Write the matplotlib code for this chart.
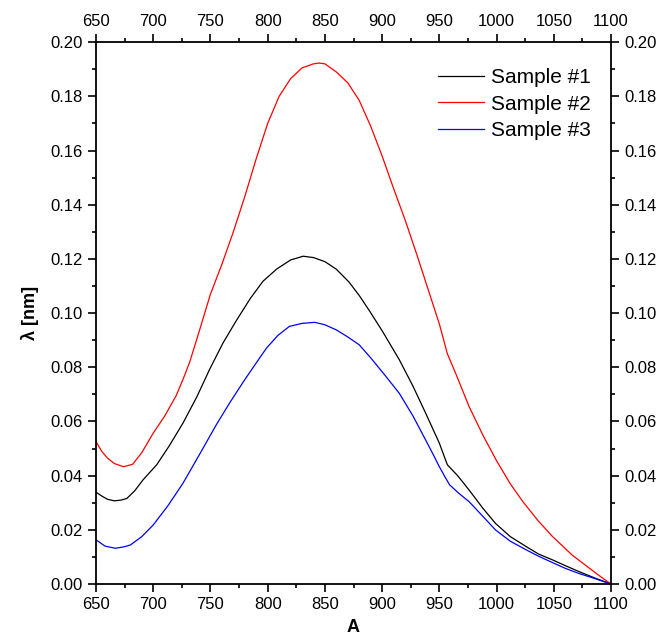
import numpy as np
import matplotlib.pyplot as plt
from matplotlib.ticker import MultipleLocator

plt.rcParams['font.family'] = ['Liberation Sans', 'DejaVu Sans']

# --- date ---
x1 = [650, 655, 660, 666, 672, 677, 684, 691, 703, 714, 726, 738, 749, 761, 773, 785, 796,
      808, 820, 831, 840, 850, 860, 871, 880, 889, 900, 915, 927, 938, 950, 957, 966, 976,
      988, 999, 1012, 1026, 1037, 1049, 1060, 1072, 1086, 1100]
y1 = [0.0339, 0.0325, 0.0313, 0.0307, 0.031, 0.0316, 0.0345, 0.0384, 0.044, 0.051, 0.0594,
      0.069, 0.079, 0.089, 0.0975, 0.1055, 0.1118, 0.1163, 0.1196, 0.121, 0.1205, 0.119,
      0.1162, 0.1115, 0.1065, 0.1008, 0.0935, 0.0828, 0.073, 0.0631, 0.052, 0.044, 0.040,
      0.0347, 0.028, 0.0224, 0.0175, 0.0138, 0.011, 0.0089, 0.0068, 0.0046, 0.0022, 0.0]

x2 = [650, 655, 660, 666, 674, 682, 690, 700, 710, 720, 726, 732, 740, 750, 760, 770, 780,
      790, 800, 810, 820, 830, 840, 845, 850, 860, 870, 880, 890, 900, 910, 920, 930, 940,
      950, 957, 965, 976, 988, 1000, 1012, 1023, 1036, 1049, 1066, 1080, 1090, 1100]
y2 = [0.0526, 0.049, 0.0465, 0.0445, 0.0433, 0.0442, 0.0485, 0.0557, 0.062, 0.0695, 0.0755,
      0.0821, 0.093, 0.107, 0.118, 0.130, 0.143, 0.157, 0.170, 0.180, 0.1865, 0.1905, 0.192,
      0.1923, 0.192, 0.189, 0.185, 0.1785, 0.169, 0.158, 0.146, 0.1345, 0.122, 0.109, 0.096,
      0.085, 0.077, 0.0655, 0.055, 0.0455, 0.037, 0.0304, 0.0235, 0.0175, 0.0107, 0.0062,
      0.003, 0.0]

x3 = [650, 658, 667, 674, 680, 690, 700, 713, 726, 740, 755, 767, 779, 789, 799, 809, 819,
      830, 841, 850, 860, 870, 880, 890, 903, 915, 927, 938, 945, 950, 955, 959, 967, 976,
      988, 999, 1012, 1026, 1037, 1049, 1060, 1072, 1086, 1100]
y3 = [0.0163, 0.014, 0.0132, 0.0137, 0.0144, 0.0175, 0.0218, 0.029, 0.0372, 0.0475, 0.0587,
      0.067, 0.0748, 0.081, 0.0871, 0.0918, 0.0951, 0.0962, 0.0966, 0.0957, 0.0938, 0.0912,
      0.0883, 0.0835, 0.0768, 0.0704, 0.062, 0.0532, 0.0475, 0.0433, 0.0395, 0.0366, 0.0335,
      0.0304, 0.025, 0.02, 0.0158, 0.0126, 0.0102, 0.0079, 0.0058, 0.0039, 0.002, 0.0]

labels = ['Sample #1', 'Sample #2', 'Sample #3']
colors = ['black', '#ff0000', '#0000ff']

fig = plt.figure(figsize=(6.62, 6.39), dpi=100)
ax = fig.add_axes([0.145, 0.086, 0.778, 0.848])

for xs, ys, lab, c in zip([x1, x2, x3], [y1, y2, y3], labels, colors):
    ax.plot(xs, ys, color=c, linewidth=0.9, label=lab)

ax.set_xlim(650, 1100)
ax.set_ylim(0, 0.20)
ax.xaxis.set_major_locator(MultipleLocator(50))
ax.xaxis.set_minor_locator(MultipleLocator(25))
ax.yaxis.set_major_locator(MultipleLocator(0.02))
ax.yaxis.set_minor_locator(MultipleLocator(0.01))
ax.yaxis.set_major_formatter(plt.FormatStrFormatter('%.2f'))

ax.tick_params(which='both', direction='out', top=True, right=True,
               labeltop=True, labelright=True, width=1.2, labelsize=12)
ax.tick_params(which='major', length=6)
ax.tick_params(which='minor', length=3)
for s in ax.spines.values():
    s.set_linewidth(1.3)

ax.set_xlabel('A', fontsize=13, fontweight='bold', labelpad=5)
ax.set_ylabel('λ [nm]', fontsize=13, fontweight='bold', labelpad=8)

ax.legend(loc='upper right', bbox_to_anchor=(0.985, 0.975), frameon=False, fontsize=15,
          handlelength=2.2, handletextpad=0.35, labelspacing=0.35, borderaxespad=0.2)

plt.savefig('out.png', dpi=100)
